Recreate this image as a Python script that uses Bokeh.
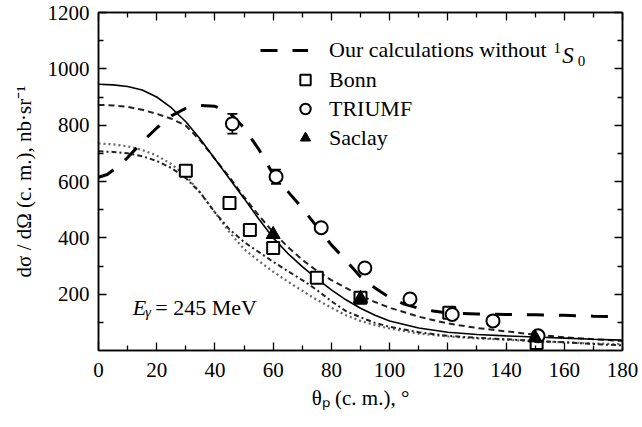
from bokeh.plotting import figure
from bokeh.models import (Range1d, LinearAxis, FixedTicker, Legend, LegendItem,
                          ColumnDataSource, Whisker, TeeHead, Label)
from bokeh.core.properties import value
from bokeh.embed import file_html
from bokeh.resources import INLINE

# ---------------- data ----------------
theta_solid = [0, 5, 10, 15, 20, 25, 30, 35, 40, 45, 50, 55, 60, 65, 70, 75, 80, 85, 90, 95, 100,
               110, 120, 130, 140, 150, 160, 170, 180]
solid = [945, 943, 937, 925, 900, 862, 812, 750, 680, 610, 540, 468, 400, 345, 298, 255, 215, 180, 150, 125, 105,
         80, 65, 57, 52, 48, 44, 40, 37]

theta_sdash = theta_solid
sdash = [872, 870, 865, 855, 840, 823, 798, 745, 680, 615, 545, 480, 420, 368, 322, 283, 250, 222, 195, 172, 152,
         120, 96, 80, 68, 56, 47, 40, 34]

theta_dashdot = theta_solid
dashdot = [707, 705, 700, 690, 673, 648, 612, 560, 490, 430, 385, 350, 315, 282, 250, 215, 175, 140, 118, 98, 84,
           65, 52, 45, 40, 34, 29, 23, 18]

theta_dot = theta_solid
dotted = [735, 732, 725, 712, 692, 662, 620, 560, 490, 420, 360, 318, 280, 245, 212, 180, 152, 125, 105, 90, 78,
          60, 50, 43, 38, 33, 29, 25, 22]

theta_ldash = [0, 3, 6, 10, 15, 20, 25, 30, 35, 40, 45, 50, 55, 60, 65, 70, 75, 80, 85, 90, 95, 100, 105, 110,
               115, 120, 130, 140, 150, 160, 170, 180]
ldash = [615, 625, 648, 685, 740, 790, 833, 860, 870, 867, 845, 790, 715, 625, 565, 505, 440, 375, 320, 262, 222,
         188, 165, 150, 140, 133, 130, 128, 127, 125, 122, 120]

bonn_theta = [30, 45, 52, 60, 75, 90, 120.5, 150.5]
bonn_val = [638, 524, 428, 364, 258, 187, 134, 27]
bonn_err = [20, 20, 12, 15, 12, 12, 12, 12]

triumf_theta = [46, 61, 76.5, 91.5, 107, 121.5, 135.5, 151]
triumf_val = [805, 617, 436, 293, 183, 128, 105, 52]
triumf_err = [35, 25, 15, 10, 10, 10, 10, 10]

saclay_theta = [60, 90, 150]
saclay_val = [412, 185, 45]

x_ticks = [0, 20, 40, 60, 80, 100, 120, 140, 160, 180]
x_minor = [10, 30, 50, 70, 90, 110, 130, 150, 170]
y_ticks = [200, 400, 600, 800, 1000, 1200]
y_minor = [100, 300, 500, 700, 900, 1100]

FONT = "'Liberation Serif', 'Times New Roman', serif"

p = figure(width=642, height=427, output_backend="svg", toolbar_location=None,
           x_range=Range1d(0, 180), y_range=Range1d(0, 1200),
           min_border_left=98, min_border_right=20, min_border_top=12, min_border_bottom=77,
           x_axis_type=None, y_axis_type=None)
p.grid.visible = False
p.outline_line_color = "black"
p.outline_line_width = 1.5
p.background_fill_color = "white"
p.border_fill_color = "white"


def style_axis(ax, ticks, minor, show_labels):
    ax.ticker = FixedTicker(ticks=ticks, minor_ticks=minor)
    ax.major_tick_in = 8
    ax.major_tick_out = 0
    ax.minor_tick_in = 5
    ax.minor_tick_out = 0
    ax.major_tick_line_color = "black"
    ax.minor_tick_line_color = "black"
    ax.major_tick_line_width = 1.3
    ax.minor_tick_line_width = 1.3
    ax.axis_line_color = "black"
    ax.axis_line_width = 1.5
    ax.major_label_text_font = FONT
    ax.major_label_text_font_size = "21px"
    ax.major_label_text_color = "black"
    ax.axis_label_text_font = FONT
    ax.axis_label_text_font_size = "21px"
    ax.axis_label_text_font_style = "normal"
    ax.axis_label_text_color = "black"
    if not show_labels:
        ax.major_label_text_color = None
        ax.major_label_text_font_size = "1px"
        ax.major_label_standoff = 0


xb = LinearAxis(axis_label="θₚ (c. m.), °")
style_axis(xb, x_ticks, x_minor, True)
xb.major_label_standoff = 12
xb.axis_label_standoff = 6
p.add_layout(xb, "below")

yl = LinearAxis(axis_label="dσ / dΩ (c. m.), nb·sr⁻¹")
style_axis(yl, y_ticks, y_minor, True)
yl.major_label_standoff = 9
yl.axis_label_standoff = 9
p.add_layout(yl, "left")

xt = LinearAxis()
style_axis(xt, x_ticks, x_minor, False)
p.add_layout(xt, "above")

yr = LinearAxis()
style_axis(yr, y_ticks, y_minor, False)
p.add_layout(yr, "right")

# ---------------- curves ----------------
p.line(theta_dot, dotted, line_color="#666666", line_width=2.2, line_dash="2 3")
p.line(theta_dashdot, dashdot, line_color="#222222", line_width=2.0, line_dash="5 3 2 3")
p.line(theta_sdash, sdash, line_color="#222222", line_width=2.0, line_dash="6 4")
p.line(theta_solid, solid, line_color="black", line_width=1.6)
r_ld = p.line(theta_ldash, ldash, line_color="black", line_width=3, line_dash="17 15")

# ---------------- data points ----------------
bonn_src = ColumnDataSource(dict(x=bonn_theta, y=bonn_val,
                                 lo=[v - e for v, e in zip(bonn_val, bonn_err)],
                                 hi=[v + e for v, e in zip(bonn_val, bonn_err)]))
tri_src = ColumnDataSource(dict(x=triumf_theta, y=triumf_val,
                                lo=[v - e for v, e in zip(triumf_val, triumf_err)],
                                hi=[v + e for v, e in zip(triumf_val, triumf_err)]))
for src in (bonn_src, tri_src):
    w = Whisker(base="x", lower="lo", upper="hi", source=src, line_color="black", line_width=1.8,
                upper_head=TeeHead(size=10, line_width=1.8, line_color="black"),
                lower_head=TeeHead(size=10, line_width=1.8, line_color="black"))
    p.add_layout(w)

r_bonn = p.scatter("x", "y", source=bonn_src, marker="square", size=12, fill_color="white",
                   line_color="black", line_width=2)
r_tri = p.scatter("x", "y", source=tri_src, marker="circle", size=13, fill_color="white",
                  line_color="black", line_width=2)
r_sac = p.scatter(saclay_theta, saclay_val, marker="triangle", size=14, fill_color="black",
                  line_color="black")

# ---------------- legends ----------------
leg1 = Legend(items=[LegendItem(label="Our calculations without", renderers=[r_ld])],
              location=(162, 286), glyph_width=48, glyph_height=28, label_height=28,
              label_standoff=21, padding=0, margin=0, spacing=0,
              border_line_color=None, background_fill_alpha=0,
              label_text_font=FONT, label_text_font_size="22px", label_text_color="black")
leg2 = Legend(items=[LegendItem(label="Bonn", renderers=[r_bonn]),
                     LegendItem(label="TRIUMF", renderers=[r_tri]),
                     LegendItem(label="Saclay", renderers=[r_sac])],
              location=(194, 198), glyph_width=26, glyph_height=29, label_height=29,
              label_standoff=11, padding=0, margin=0, spacing=0,
              border_line_color=None, background_fill_alpha=0,
              label_text_font=FONT, label_text_font_size="22px", label_text_color="black")
p.add_layout(leg1)
p.add_layout(leg2)

# superscript / italic parts of first legend label (data coordinates)
p.add_layout(Label(x=156.3, y=1075, text="1", text_font=FONT, text_font_size="15px",
                   text_color="black", text_baseline="alphabetic"))
p.add_layout(Label(x=159.3, y=1047, text="S", text_font=FONT, text_font_size="23px",
                   text_font_style="italic", text_color="black", text_baseline="alphabetic"))
p.add_layout(Label(x=164.6, y=1028, text="0", text_font=FONT, text_font_size="15px",
                   text_color="black", text_baseline="alphabetic"))

# E_gamma annotation
p.add_layout(Label(x=11.8, y=152, text="E", text_font=FONT, text_font_size="22px",
                   text_font_style="italic", text_color="black", text_baseline="alphabetic"))
p.add_layout(Label(x=16.0, y=135, text="γ", text_font=FONT, text_font_size="15px",
                   text_font_style="italic", text_color="black", text_baseline="alphabetic"))
p.add_layout(Label(x=19.5, y=152, text="= 245 MeV", text_font=FONT, text_font_size="22px",
                   text_color="black", text_baseline="alphabetic"))

open("out.html", "w").write(file_html(p, INLINE))
